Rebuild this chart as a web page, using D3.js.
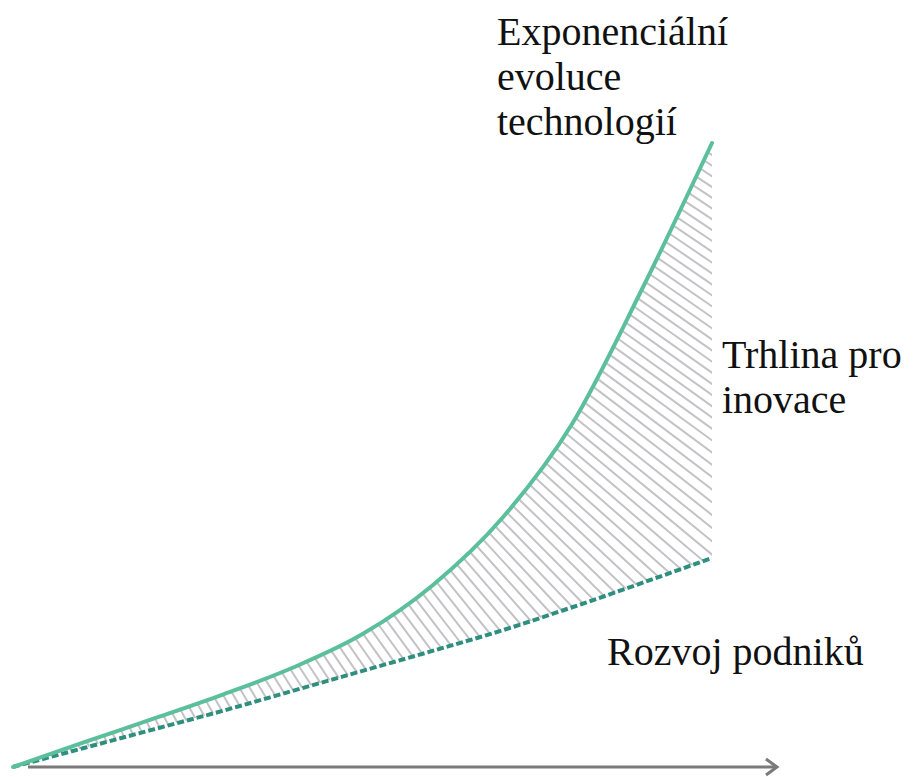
<!DOCTYPE html>
<html>
<head>
<meta charset="utf-8">
<script src="https://cdn.jsdelivr.net/npm/d3@7"></script>
<style>
  body { margin: 0; }
  #wrap { position: relative; width: 913px; height: 777px; }
  svg { position: absolute; left: 0; top: 0; }
  .lbl {
    position: absolute;
    font-family: 'Liberation Serif', 'Times New Roman', Tinos, serif;
    font-size: 40px;
    line-height: 45px;
    color: #111;
    white-space: nowrap;
  }
</style>
</head>
<body>
<div id="wrap"><svg id="chart" width="913" height="777"></svg></div>
<script>
// time steps (x) and the two series (0..100)
var steps = [0, 10, 20, 30, 40, 50, 60, 70, 80, 90, 100];
var techValues = [0, 3.9, 7.7, 11.6, 15.9, 21.3, 29.1, 39.9, 55, 76.6, 100];
var bizValues = [0, 3.0, 6.0, 9.0, 12.2, 15.4, 18.6, 21.9, 25.6, 29.5, 33.5];
var techLabel = ["Exponenciální", "evoluce", "technologií"];
var gapLabel = ["Trhlina pro", "inovace"];
var bizLabel = ["Rozvoj podniků"];

var svg = d3.select("#chart");

var x = d3.scaleLinear().domain([0, 100]).range([13, 712]);
var y = d3.scaleLinear().domain([0, 100]).range([767, 143]);

var tech = steps.map(function(s, i) { return {x: s, y: techValues[i]}; });
var biz = steps.map(function(s, i) { return {x: s, y: bizValues[i]}; });

var line = d3.line()
    .x(function(d) { return x(d.x); })
    .y(function(d) { return y(d.y); })
    .curve(d3.curveMonotoneX);

// area between the two curves, used as clip for hatching
var area = d3.area()
    .x(function(d) { return x(d.x); })
    .y0(function(d, i) { return y(bizValues[i]); })
    .y1(function(d) { return y(d.y); })
    .curve(d3.curveMonotoneX);

svg.append("clipPath").attr("id", "gapClip")
   .append("path").attr("d", area(tech));

// x axis with arrow
var axisG = svg.append("g");
axisG.append("line")
    .attr("x1", x(0) + 15).attr("y1", y(0))
    .attr("x2", 776).attr("y2", y(0))
    .attr("stroke", "#7a7a7a").attr("stroke-width", 3);
axisG.append("path")
    .attr("d", "M766," + (y(0) - 8) + "L777," + y(0) + "L766," + (y(0) + 8))
    .attr("fill", "none").attr("stroke", "#7a7a7a").attr("stroke-width", 3);

// upper curve (drawn first, used to measure along it)
var techPath = svg.append("path")
    .attr("d", line(tech))
    .attr("fill", "none");

var node = techPath.node();
var total = node.getTotalLength();
var angle = d3.scaleLinear().domain([0, 60, 85, 100]).range([68, 52, 36, 33]);

var hatch = svg.append("g").attr("clip-path", "url(#gapClip)");
for (var l = 6; l < total; l += 9) {
  var p = node.getPointAtLength(l);
  var a = angle(x.invert(p.x)) * Math.PI / 180;
  hatch.append("line")
      .attr("x1", p.x - 3 * Math.cos(a)).attr("y1", p.y - 3 * Math.sin(a))
      .attr("x2", p.x + 600 * Math.cos(a)).attr("y2", p.y + 600 * Math.sin(a))
      .attr("stroke", "#c4c2c6").attr("stroke-width", 2);
}

// business line (dashed)
svg.append("path")
    .attr("d", line(biz))
    .attr("fill", "none")
    .attr("stroke", "#2f8f7e")
    .attr("stroke-width", 4)
    .attr("stroke-dasharray", "7,3");

// technology line
techPath.attr("stroke", "#5bbf9c")
    .attr("stroke-width", 4)
    .attr("stroke-linecap", "round")
    .raise();

// labels as html text on top of the svg
var wrap = d3.select("#wrap");
function addLabel(lines, x0, baseline) {
  var div = wrap.append("div").attr("class", "lbl")
      .style("left", x0 + "px")
      .style("top", (baseline - 36) + "px");
  lines.forEach(function(s) {
    div.append("div").text(s);
  });
}
addLabel(techLabel, 497, 45);
addLabel(gapLabel, 722, 368);
addLabel(bizLabel, 607, 665);
</script>
</body>
</html>
